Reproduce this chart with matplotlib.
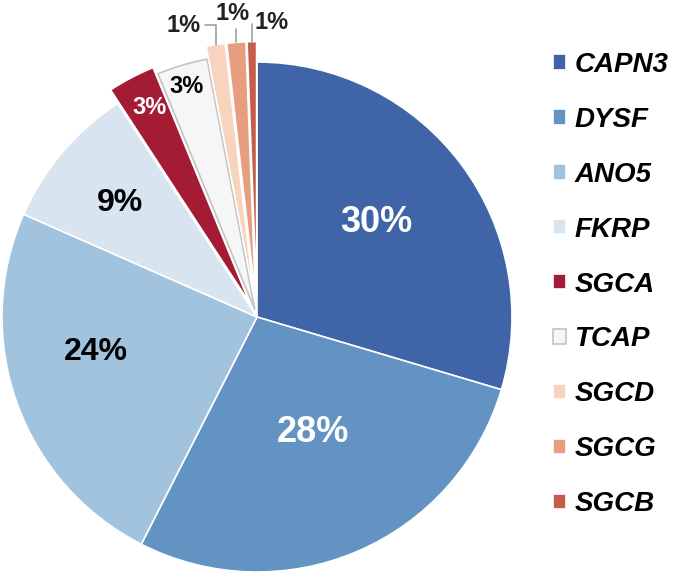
"""
Pie chart - LGMD gene distribution
"""

import numpy as np
import matplotlib
matplotlib.use('Agg')
import matplotlib.pyplot as plt

genes = ['CAPN3', 'DYSF', 'ANO5', 'FKRP', 'SGCA', 'TCAP', 'SGCD', 'SGCG', 'SGCB']
# slice sizes (labels are the rounded values)
shares = [29.6, 27.9, 24.1, 9.2, 3.0, 3.2, 1.2, 1.2, 0.6]
pct_labels = ['30%', '28%', '24%', '9%', '3%', '3%', '1%', '1%', '1%']
colors = ['#3f65a8', '#6393c3', '#a2c3dd', '#d8e5f0', '#a31c34',
          '#f6f6f6', '#f8d3bd', '#e69e7e', '#c75c4c']

plt.rcParams['font.family'] = ['Liberation Sans', 'DejaVu Sans']

fig = plt.figure(figsize=(6.77, 5.77), dpi=100)
W, H = 677, 577
cx, cy, R = 257, 260, 255
ax = fig.add_axes([(cx - R) / W, (cy - R) / H, 2 * R / W, 2 * R / H])

explode = [0, 0, 0, 0, 0.06, 0.03, 0.08, 0.08, 0.08]
wedges, _ = ax.pie(shares, colors=colors, startangle=90, counterclock=False,
                   explode=explode, radius=1.0,
                   wedgeprops=dict(edgecolor='white', linewidth=1.2))
wedges[5].set_edgecolor('#c4c4c4')
wedges[5].set_linewidth(1.2)
for w in wedges:
    w.set_clip_on(False)

ax.set_xlim(-1, 1)
ax.set_ylim(-1, 1)
ax.set_aspect('equal')
ax.axis('off')

# labels inside / near the slices (positions in units of the radius)
inner_pos = [(0.467, 0.369), (0.22, -0.451), (-0.631, -0.137),
             (-0.537, 0.447), (-0.42, 0.82), (-0.278, 0.902)]
sizes = [26, 26, 23, 23, 17, 17]
txt_colors = ['white', 'white', 'black', 'black', 'white', 'black']
for i in range(6):
    ax.text(inner_pos[i][0], inner_pos[i][1], pct_labels[i],
            ha='center', va='center', fontsize=sizes[i], fontweight='bold',
            color=txt_colors[i])

# 1% labels outside with leader lines
label_pos = [(-0.287, 1.145), (-0.094, 1.19), (0.059, 1.153)]
for k, i in enumerate(range(6, 9)):
    w = wedges[i]
    mid = np.deg2rad((w.theta1 + w.theta2) / 2)
    r_out = 1.0 + explode[i]
    xy = (r_out * np.cos(mid), r_out * np.sin(mid))
    ax.annotate(pct_labels[i], xy=xy, xytext=label_pos[k],
                ha='center', va='center', fontsize=17, fontweight='bold',
                color='#222222', annotation_clip=False,
                arrowprops=dict(arrowstyle='-', color='#a0a0a0', lw=1.2,
                                shrinkA=1, shrinkB=0,
                                connectionstyle='angle,angleA=0,angleB=90,rad=0'))

leg = fig.legend(wedges, genes, loc='upper left',
                 bbox_to_anchor=(553 / W, 1 - 52 / H),
                 frameon=False, borderpad=0, borderaxespad=0,
                 handlelength=0.47, handleheight=0.47, handletextpad=0.3,
                 labelspacing=1.04,
                 prop=dict(family='Liberation Sans', weight='bold',
                           style='italic', size=20))

plt.savefig('out.png', dpi=100)
plt.close()
